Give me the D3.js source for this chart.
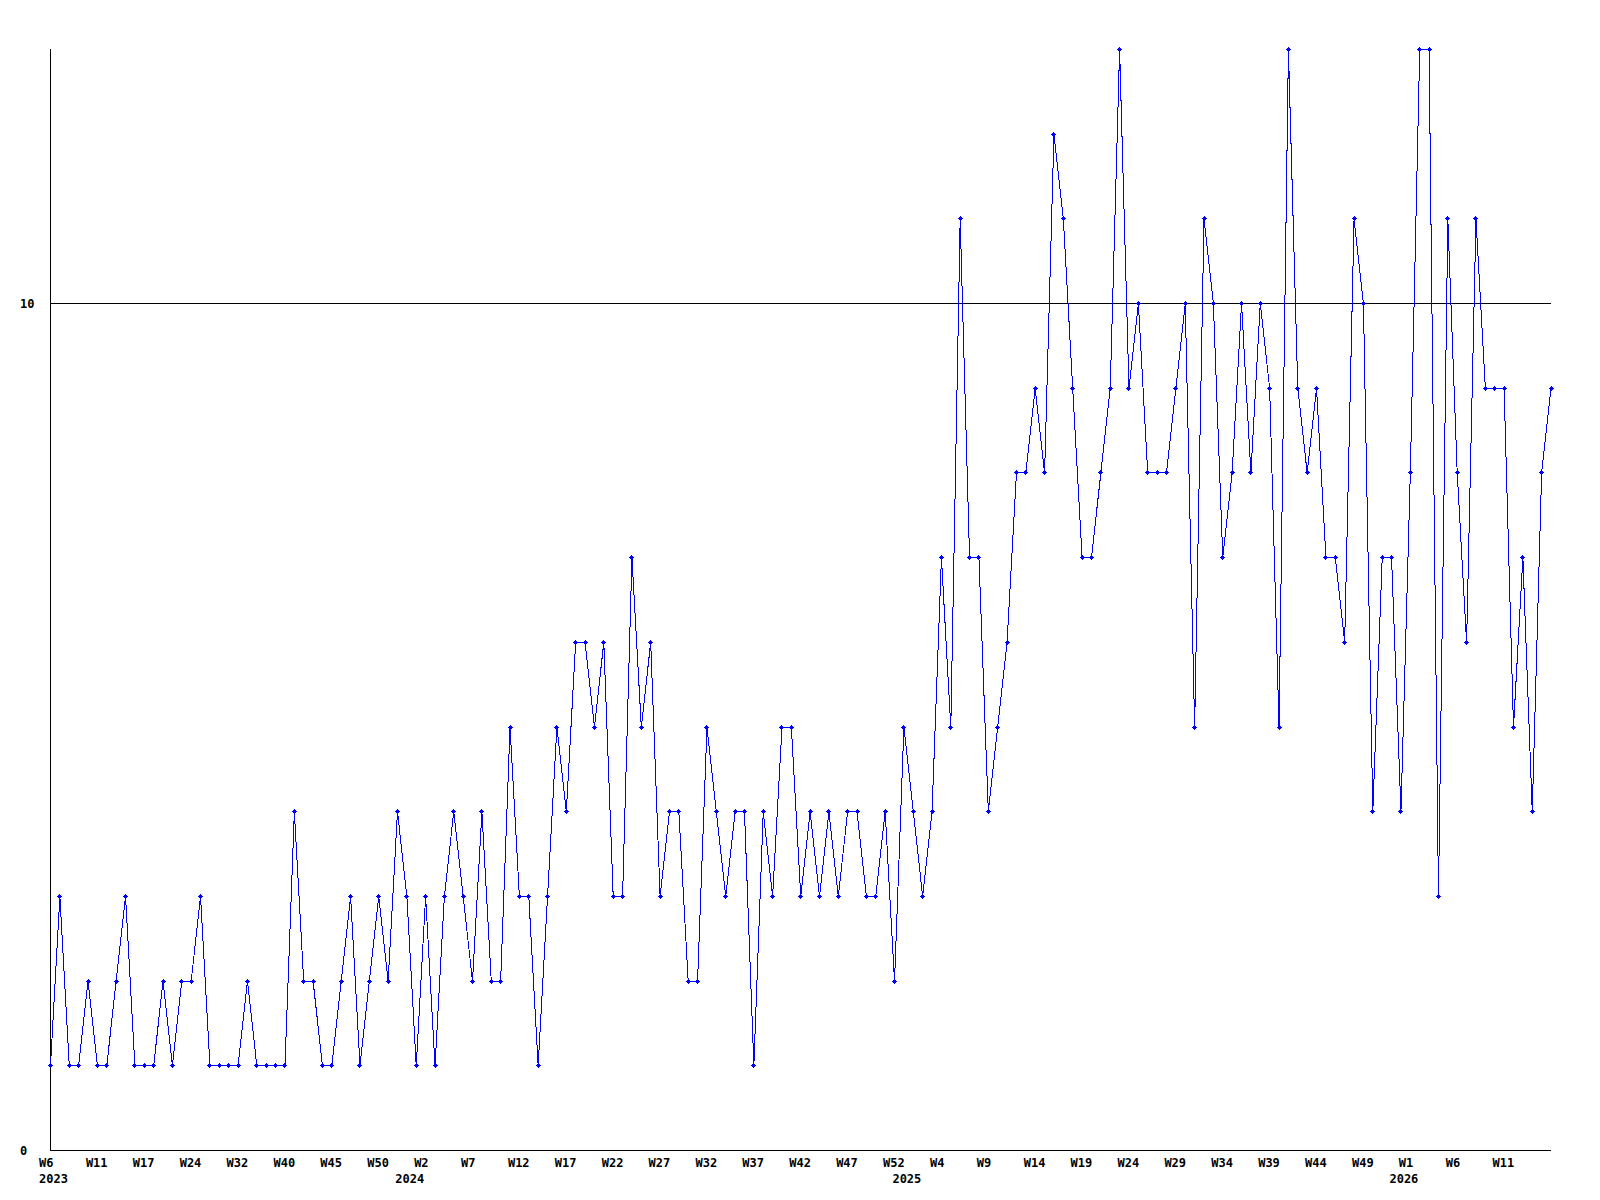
<!DOCTYPE html>
<html><head><meta charset="utf-8">
<script src="https://cdn.jsdelivr.net/npm/d3@7"></script>
<style>body{margin:0;background:#fff}</style>
</head><body>
<svg id="chart" width="1600" height="1200" style="display:block;background:#fff"></svg>
<script>
// weekly values, 2023 W6 .. 2026
const values = [
  1,3,1,1,2,1,1,2,3,1,
  1,1,2,1,2,2,3,1,1,1,
  1,2,1,1,1,1,4,2,2,1,
  1,2,3,1,2,3,2,4,3,1,
  3,1,3,4,3,2,4,2,2,5,
  3,3,1,3,5,4,6,6,5,6,
  3,3,7,5,6,3,4,4,2,2,
  5,4,3,4,4,1,4,3,5,5,
  3,4,3,4,3,4,4,3,3,4,
  2,5,4,3,4,7,5,11,7,7,
  4,5,6,8,8,9,8,12,11,9,
  7,7,8,9,13,9,10,8,8,8,
  9,10,5,11,10,7,8,10,8,10,
  9,5,13,9,8,9,7,7,6,11,
  10,4,7,7,4,8,13,13,3,11,
  8,6,11,9,9,9,5,7,4,8,9
];
const tickLabels = ["W6","W11","W17","W24","W32","W40","W45","W50","W2","W7","W12",
  "W17","W22","W27","W32","W37","W42","W47","W52","W4","W9","W14",
  "W19","W24","W29","W34","W39","W44","W49","W1","W6","W11"];
const tickStep = 5;
const yearLabels = ["2023","2024","2025","2026"];
const yearIndex = [0,38,91,144];
const yTicks = [0,10];
const yMax = 13;

const svg = d3.select("#chart");
const x = d3.scaleLinear().domain([0, values.length - 1]).range([50.5, 1551]);
const y = d3.scaleLinear().domain([0, yMax]).range([1150.5, 49.5]);
const font = "'DejaVu Sans Mono', monospace";

// gridline at 10
svg.selectAll("line.grid").data(yTicks.filter(d => d > 0)).enter().append("line")
  .attr("x1", 50).attr("x2", 1551)
  .attr("y1", d => Math.round(y(d) - 0.5) + 0.5).attr("y2", d => Math.round(y(d) - 0.5) + 0.5)
  .attr("stroke", "#000").attr("stroke-width", 1).attr("shape-rendering", "crispEdges");

// axes
svg.append("line").attr("x1", 50.5).attr("x2", 50.5).attr("y1", 49).attr("y2", 1151)
  .attr("stroke", "#000").attr("shape-rendering", "crispEdges");
svg.append("line").attr("x1", 50).attr("x2", 1551).attr("y1", 1150.5).attr("y2", 1150.5)
  .attr("stroke", "#000").attr("shape-rendering", "crispEdges");

// y labels
svg.selectAll("text.ylab").data(yTicks).enter().append("text")
  .attr("x", 20).attr("y", d => y(d) + 4.5)
  .attr("font-family", font).attr("font-weight", "bold").attr("font-size", 12)
  .attr("fill", "#000").text(d => d);

// x week labels
svg.selectAll("text.wk").data(tickLabels).enter().append("text")
  .attr("x", (d, i) => x(i * tickStep) - 11.5).attr("y", 1167)
  .attr("font-family", font).attr("font-weight", "bold").attr("font-size", 12)
  .attr("fill", "#000").text(d => d);

// year labels
svg.selectAll("text.yr").data(yearLabels).enter().append("text")
  .attr("x", (d, i) => x(yearIndex[i]) - 11.5).attr("y", 1183)
  .attr("font-family", font).attr("font-weight", "bold").attr("font-size", 12)
  .attr("fill", "#000").text(d => d);

// line
const line = d3.line().x((d, i) => x(i)).y(d => y(d));
svg.append("path").datum(values).attr("d", line)
  .attr("fill", "none").attr("stroke", "#0000ff").attr("stroke-width", 1)
  .attr("shape-rendering", "crispEdges");

// markers (small plus)
const mk = svg.append("g").attr("fill", "#0000ff").attr("shape-rendering", "crispEdges");
values.forEach((v, i) => {
  const px = Math.floor(x(i)), py = Math.floor(y(v));
  mk.append("rect").attr("x", px - 2).attr("y", py).attr("width", 5).attr("height", 1);
  mk.append("rect").attr("x", px).attr("y", py - 2).attr("width", 1).attr("height", 5);
  mk.append("rect").attr("x", px - 1).attr("y", py - 1).attr("width", 3).attr("height", 3);
});
</script>
</body></html>
